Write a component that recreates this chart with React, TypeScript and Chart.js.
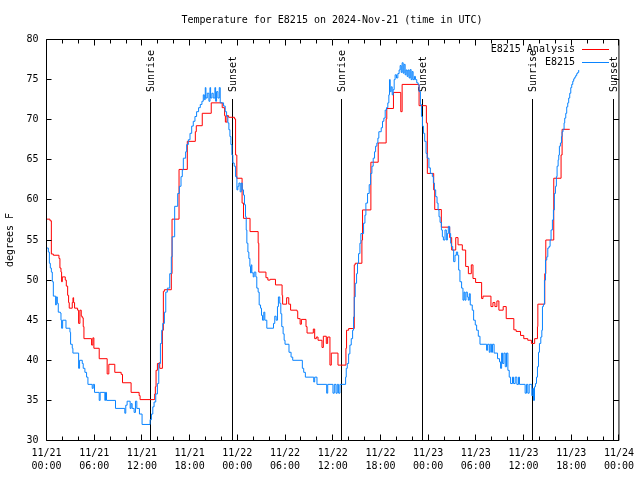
import { useEffect, useRef } from 'react';
import { Chart, registerables } from 'chart.js';

Chart.register(...registerables);

const TITLE = 'Temperature for E8215 on 2024-Nov-21 (time in UTC)';
const Y_TITLE = 'degrees F';
const SERIES_NAMES = ['E8215 Analysis', 'E8215'];

// hours since 2024-11-21 00:00 UTC
const tickDates = ['11/21', '11/21', '11/21', '11/21', '11/22', '11/22', '11/22', '11/22', '11/23', '11/23', '11/23', '11/23', '11/24'];
const tickTimes = ['00:00', '06:00', '12:00', '18:00', '00:00', '06:00', '12:00', '18:00', '00:00', '06:00', '12:00', '18:00', '00:00'];

const sunHours = [13.02, 23.42, 37.07, 47.33, 61.1, 71.37];
const sunLabels = ['Sunrise', 'Sunset', 'Sunrise', 'Sunset', 'Sunrise', 'Sunset'];

const analysisHours = [
  0, 0.44, 0.61, 0.86, 1.57, 1.69, 1.82, 1.9, 1.99, 2.36, 2.49, 2.66, 2.78, 2.86, 3.24, 3.33, 3.41, 3.53,
  3.91, 4.04, 4.2, 4.37, 4.5, 4.62, 4.71, 5.67, 5.83, 5.96, 6.63, 7.63, 7.84, 8.59, 9.39, 9.56, 10.64,
  11.65, 11.77, 13.61, 13.69, 13.78, 13.95, 14.16, 14.24, 14.58, 14.7, 14.83, 15.7, 15.79, 16.67, 17.71,
  18.72, 18.84, 19.59, 20.72, 22.1, 22.4, 22.5, 22.7, 22.9, 23.65, 23.78, 23.94, 24.6, 24.78, 25.6, 26.62,
  26.7, 27.6, 27.84, 28.13, 28.8, 29.63, 29.7, 30.2, 30.47, 30.7, 31.52, 31.6, 31.9, 32.06, 32.64, 32.77,
  33.56, 33.73, 33.94, 34.15, 34.65, 34.82, 35.19, 35.36, 35.65, 35.82, 36.66, 37.66, 37.74, 38.0, 38.71,
  38.83, 39.67, 39.75, 40.8, 41.72, 42.72, 42.8, 43.64, 44.56, 44.73, 46.86, 47.78, 47.9, 48.7, 48.83,
  49.66, 50.71, 50.96, 51.47, 51.76, 52.3, 52.72, 53.06, 53.43, 53.64, 53.97, 54.73, 54.9, 55.9, 56.15,
  56.4, 56.65, 56.9, 57.44, 57.82, 58.78, 59.07, 59.62, 60.03, 60.53, 60.99, 61.4, 61.75, 61.8, 62.67,
  62.8, 63.8, 64.72, 64.85, 65.81
];
const analysisTemps = [
  57.6, 57.4, 53.25, 53.1, 52.7, 51.5, 51.0, 49.8, 50.4, 50.0, 49.25, 48.1, 47.2, 46.5, 47.2, 47.8, 47.2, 46.5,
  46.25, 44.6, 46.25, 45.5, 45.3, 44.2, 42.7, 41.9, 42.8, 41.5, 40.2, 38.3, 39.5, 38.5, 38.25, 37.2, 36.0,
  35.6, 35.1, 35.8, 36.7, 38.75, 39.6, 39.7, 39.0, 43.75, 48.6, 48.8, 50.8, 57.6, 63.8, 67.3,
  68.5, 69.25, 70.8, 72.1, 71.5, 70.5, 69.7, 70.5, 70.3, 70.1, 65.6, 62.7, 59.6, 57.7, 56.05, 54.6,
  51.0, 50.3, 50.0, 50.1, 49.4, 48.1, 47.0, 47.8, 47.0, 46.25, 46.1, 45.2, 44.5, 45.1, 44.2, 43.4,
  43.9, 42.7, 42.9, 42.5, 41.6, 43.0, 42.1, 42.9, 39.4, 40.9, 39.4, 41.5, 43.75, 43.96, 51.9,
  52.1, 55.0, 58.75, 64.7, 67.1, 70.1, 71.4, 73.4, 71.0, 74.4, 71.75, 69.6, 63.3, 61.25, 58.8,
  56.6, 55.3, 53.75, 55.3, 54.4, 53.75, 51.7, 50.8, 51.9, 50.2, 49.7, 47.7, 48.0, 46.7, 47.2,
  46.7, 47.4, 46.25, 46.7, 45.2, 43.8, 43.6, 43.1, 42.7, 42.5, 42.1, 42.7, 44.2, 47.0, 50.8,
  55.0, 62.7, 65.6, 68.8, 68.8
];

const obsHours = [
  0, 0.23, 0.36, 0.48, 0.61, 0.73, 0.86, 1.15, 1.23, 1.36, 1.48, 1.74, 1.82, 1.9, 2.03, 2.45, 2.95, 3.03,
  3.24, 3.32, 4.04, 4.16, 4.5, 4.62, 4.83, 5.04, 5.21, 5.75, 5.88, 6.04, 6.63, 6.75, 7.34, 7.42, 7.55, 8.68,
  9.85, 9.97, 10.14, 10.52, 10.64, 10.77, 11.02, 11.19, 11.36, 11.69, 12.02, 13.03, 13.2, 13.37, 13.53,
  13.74, 13.95, 14.12, 14.33, 14.49, 14.62, 14.83, 15.0, 15.2, 15.5, 15.7, 15.8, 16.12, 16.5, 16.71, 16.92,
  17.08, 17.21, 17.5, 17.63, 17.84, 18.05, 18.26, 18.46, 18.67, 18.88, 19.13, 19.34, 19.55, 19.72, 19.85,
  19.97, 20.05, 20.22, 20.43, 20.56, 20.64, 20.8, 20.97, 21.18, 21.27, 21.39, 21.56, 21.73, 21.85, 22.27,
  22.48, 22.65, 22.81, 22.94, 23.07, 23.19, 23.32, 23.44, 23.61, 23.78, 23.95, 24.07, 24.2, 24.36, 24.49,
  24.62, 24.78, 24.9, 25.03, 25.12, 25.2, 25.33, 25.45, 25.58, 25.66, 25.75, 25.83, 26.0, 26.12, 26.33,
  26.45, 26.62, 26.75, 26.92, 27.04, 27.17, 27.33, 27.46, 27.71, 28.55, 28.71, 28.88, 29.05, 29.17, 29.34,
  29.47, 29.59, 29.76, 29.89, 30.0, 30.5, 30.76, 30.97, 32.18, 32.35, 32.56, 33.61, 33.73, 34.02, 35.24,
  35.37, 36.03, 36.2, 36.41, 36.57, 36.74, 36.91, 37.62, 37.7, 37.83, 38.0, 38.16, 38.33, 38.5, 38.62,
  38.71, 38.83, 39.0, 39.12, 39.25, 39.42, 39.54, 39.88, 40.05, 40.17, 40.38, 40.59, 40.76, 40.93, 41.09,
  41.26, 41.39, 41.55, 41.68, 41.8, 42.1, 42.26, 42.43, 42.6, 42.76, 42.93, 43.06, 43.14, 43.23, 43.35,
  43.48, 43.6, 43.73, 43.85, 44.02, 44.19, 44.35, 44.48, 44.61, 44.73, 44.86, 44.98, 45.11, 45.23, 45.36,
  45.48, 45.61, 45.74, 45.86, 45.99, 46.11, 46.28, 46.4, 46.57, 46.74, 46.86, 47.03, 47.16, 47.28, 47.41,
  47.57, 47.74, 47.87, 48.1, 48.28, 48.53, 48.66, 48.79, 48.95, 49.12, 49.25, 49.37, 49.5, 49.67, 49.79,
  49.92, 50.12, 50.29, 50.42, 50.54, 50.71, 50.83, 50.92, 51.09, 51.21, 51.38, 51.55, 51.71, 51.84, 52.0,
  52.21, 52.38, 52.51, 52.63, 52.76, 52.93, 53.05, 53.18, 53.3, 53.55, 53.72, 53.93, 54.1, 54.31, 54.52,
  55.35, 55.48, 55.69, 55.81, 55.98, 56.1, 56.3, 56.73, 56.98, 57.11, 57.24, 57.36, 57.53, 57.7, 57.86,
  58.03, 58.2, 58.37, 58.61, 58.74, 58.95, 59.16, 59.37, 59.49, 60.2, 60.37, 60.54, 60.71, 61.04, 61.17,
  61.25, 61.38, 61.5, 61.63, 61.75, 61.88, 62.0, 62.17, 62.3, 62.38, 62.5, 62.63, 62.76, 62.92, 63.05,
  63.21, 63.34, 63.46, 63.63, 63.76, 63.88, 64.01, 64.13, 64.22, 64.35, 64.43, 64.51, 64.64, 64.77, 64.85,
  64.97, 65.1, 65.18, 65.31, 65.43, 65.56, 65.68, 65.81, 65.94, 66.06, 66.19, 66.31, 66.44, 66.56, 66.69,
  66.81, 66.94
];
const obsTemps = [
  54.0, 53.5, 52.1, 51.5, 51.0, 49.8, 48.0, 46.9, 47.9, 47.1, 46.0, 45.9, 45.0, 44.0, 45.0, 44.0, 43.5, 42.0,
  41.5, 40.9, 39.0, 40.0, 39.6, 39.0, 38.5, 37.9, 37.0, 36.5, 37.0, 36.0, 35.0, 36.0, 35.0, 36.0, 35.0, 34.0,
  33.4, 34.4, 34.9, 34.0, 34.6, 34.0, 33.5, 34.9, 34.0, 33.3, 32.0, 32.6, 33.3, 34.2, 34.8,
  35.8, 37.1, 39.6, 42.1, 43.75, 44.6, 46.0, 48.5, 49.0, 50.8, 52.9, 55.4, 59.2, 60.8, 61.7, 62.9,
  63.75, 65.2, 66.0, 66.9, 67.5, 68.3, 69.2, 69.8, 70.4, 71.0, 71.5, 71.9, 72.3, 73.1, 72.5,
  74.0, 72.7, 73.3, 72.3, 74.0, 72.7, 73.3, 72.7, 74.0, 72.3, 73.5, 72.7, 74.0, 72.1, 71.7,
  71.0, 70.4, 69.6, 68.75, 67.9, 66.9, 65.6, 64.6, 64.2, 62.9, 61.25, 61.7, 62.1, 61.0, 62.1,
  61.25, 60.6, 59.4, 57.9, 56.25, 54.6, 53.5, 52.7, 51.7, 50.9, 51.9, 50.9, 50.4, 51.0, 50.4,
  49.0, 48.5, 46.9, 46.5, 45.6, 45.0, 46.0, 45.0, 44.0, 44.6, 45.5, 45.0, 46.7, 47.9, 47.1,
  45.8, 44.2, 43.3, 42.5, 42.0, 41.0, 40.4, 40.0, 39.0, 38.5, 37.9, 37.3, 37.9, 37.0, 35.9,
  37.0, 35.9, 37.0, 35.9, 37.0, 35.9, 37.0, 37.9, 39.0, 39.6, 40.8, 41.9, 42.7, 43.75, 45.4,
  47.9, 49.6, 50.8, 52.1, 53.3, 54.6, 55.8, 57.1, 58.1, 59.6, 60.8, 61.9, 63.3, 64.2, 65.2,
  66.0, 66.7, 67.1, 67.7, 68.5, 69.0, 69.8, 70.2, 71.2, 71.5, 72.1, 73.1, 75.0, 73.5, 74.1,
  73.1, 73.75, 75.0, 75.6, 75.2, 75.75, 76.2, 76.75, 75.9, 77.1, 75.8, 76.9, 75.6, 76.2, 75.4,
  76.2, 75.2, 76.25, 75.0, 76.0, 75.0, 75.4, 75.0, 74.6, 74.4, 73.5, 71.9, 70.4, 69.2, 68.3,
  67.3, 65.8, 65.2, 64.0, 63.3, 62.9, 62.1, 61.25, 60.4, 59.6, 58.75, 57.9, 57.2, 56.25, 55.4,
  55.0, 56.25, 55.0, 55.8, 56.7, 55.8, 54.6, 54.2, 53.75, 52.3, 53.1, 53.5, 53.1, 51.25, 49.8,
  49.0, 47.5, 48.5, 47.5, 48.5, 47.9, 47.5, 48.3, 46.9, 46.25, 45.0, 44.4, 43.75, 43.0, 42.0,
  41.25, 42.0, 41.0, 42.0, 41.0, 42.0, 40.9, 40.2, 39.8, 39.0, 40.9, 39.6, 40.9, 39.2, 40.9,
  38.75, 37.9, 37.1, 37.9, 37.1, 37.9, 37.0, 37.9, 37.0, 35.9, 37.0, 35.9, 37.0, 35.6, 36.5,
  35.0, 36.7, 37.1, 37.9, 39.2, 41.0, 42.1, 42.9, 43.75, 46.7, 47.0, 50.0, 52.5, 52.9, 54.0,
  54.2, 55.0, 56.25, 57.5, 58.75, 60.8, 61.7, 62.9, 64.2, 65.0, 65.6, 66.7, 67.1, 67.9, 68.5,
  68.8, 69.6, 70.2, 70.8, 71.6, 72.1, 72.7, 73.3, 74.0, 74.4, 74.8, 75.1, 75.3, 75.5, 75.75,
  75.9, 76.2
];

const RED = '#ff0000';
const BLUE = '#0a84ff';
const FONT = '"DejaVu Sans Mono", monospace';

const crisp = (v: number) => Math.round(v - 0.5) + 0.5;

const decorPlugin = {
  id: 'gnuplotDecor',
  beforeDatasetsDraw(chart: any) {
    const { ctx, chartArea, scales } = chart;
    ctx.save();
    ctx.strokeStyle = '#000';
    ctx.lineWidth = 1;
    ctx.fillStyle = '#000';
    ctx.font = '10px ' + FONT;
    sunHours.forEach((h, i) => {
      const x = crisp(scales.x.getPixelForValue(h));
      ctx.beginPath();
      ctx.moveTo(x, 99);
      ctx.lineTo(x, chartArea.bottom);
      ctx.stroke();
      ctx.save();
      ctx.translate(x + 1, 92);
      ctx.rotate(-Math.PI / 2);
      ctx.textAlign = 'left';
      ctx.textBaseline = 'middle';
      ctx.fillText(sunLabels[i], 0, 0);
      ctx.restore();
    });
    ctx.restore();
  },
  afterDatasetsDraw(chart: any) {
    const { ctx, chartArea, scales } = chart;
    const { left, right, top, bottom } = chartArea;
    ctx.save();
    ctx.strokeStyle = '#000';
    ctx.lineWidth = 1;
    ctx.beginPath();
    ctx.rect(left, top, right - left, bottom - top);
    ctx.stroke();
    // x ticks (inward, mirrored)
    for (let h = 0; h <= 72; h += 2) {
      const x = crisp(scales.x.getPixelForValue(h));
      const len = h % 6 === 0 ? 6 : 4;
      ctx.beginPath();
      ctx.moveTo(x, bottom);
      ctx.lineTo(x, bottom - len);
      ctx.moveTo(x, top);
      ctx.lineTo(x, top + len);
      ctx.stroke();
    }
    for (let v = 30; v <= 80; v += 5) {
      const y = crisp(scales.y.getPixelForValue(v));
      ctx.beginPath();
      ctx.moveTo(left, y);
      ctx.lineTo(left + 5, y);
      ctx.moveTo(right, y);
      ctx.lineTo(right - 5, y);
      ctx.stroke();
    }
    // title
    ctx.fillStyle = '#000';
    ctx.font = '10px ' + FONT;
    ctx.textAlign = 'center';
    ctx.textBaseline = 'middle';
    ctx.fillText(TITLE, 332, 20);
    // legend
    const colors = [RED, BLUE];
    SERIES_NAMES.forEach((name, i) => {
      const y = 49.5 + i * 13;
      ctx.fillStyle = '#000';
      ctx.textAlign = 'right';
      ctx.fillText(name, 575, y);
      ctx.strokeStyle = colors[i];
      ctx.beginPath();
      ctx.moveTo(582, y);
      ctx.lineTo(609, y);
      ctx.stroke();
    });
    ctx.restore();
  },
};

export default function App() {
  const ref = useRef<HTMLCanvasElement>(null);
  useEffect(() => {
    document.body.style.margin = '0';
    if (!ref.current) return;
    Chart.defaults.font.family = FONT;
    const chart = new Chart(ref.current, {
      type: 'line',
      data: {
        datasets: [
          {
            label: SERIES_NAMES[0],
            data: analysisHours.map((h, i) => ({ x: h, y: analysisTemps[i] })),
            borderColor: RED,
            borderWidth: 1,
            pointRadius: 0,
            stepped: true,
            fill: false,
            order: 2,
          },
          {
            label: SERIES_NAMES[1],
            data: obsHours.map((h, i) => ({ x: h, y: obsTemps[i] })),
            borderColor: BLUE,
            borderWidth: 1,
            pointRadius: 0,
            stepped: true,
            fill: false,
            order: 1,
          },
        ],
      },
      options: {
        responsive: false,
        devicePixelRatio: 1,
        animation: false,
        events: [],
        layout: { padding: { left: 0, top: 39.5, right: 18.5, bottom: 0 } },
        plugins: {
          legend: { display: false },
          title: { display: false },
          tooltip: { enabled: false },
        },
        scales: {
          x: {
            type: 'linear',
            min: 0,
            max: 72,
            grid: { display: false, drawTicks: false },
            border: { display: false },
            afterFit: (s: any) => { s.height = 39.5; },
            afterBuildTicks: (s: any) => {
              s.ticks = tickDates.map((_, i) => ({ value: i * 6 }));
            },
            ticks: {
              autoSkip: false,
              maxRotation: 0,
              color: '#000',
              padding: 6,
              font: { size: 10, family: FONT, lineHeight: 1.3 },
              callback: (v: any) => {
                const i = Math.round(Number(v) / 6);
                return [tickDates[i], tickTimes[i]];
              },
            },
          },
          y: {
            min: 30,
            max: 80,
            grid: { display: false, drawTicks: false },
            border: { display: false },
            afterFit: (s: any) => { s.width = 46.5; },
            ticks: {
              stepSize: 5,
              color: '#000',
              padding: 8,
              font: { size: 10, family: FONT },
            },
            title: {
              display: true,
              text: Y_TITLE,
              color: '#000',
              font: { size: 10, family: FONT },
              padding: { top: 4, bottom: 0 },
            },
          },
        },
      },
      plugins: [decorPlugin],
    });
    return () => chart.destroy();
  }, []);
  return (
    <div style={{ width: 640, height: 480, background: '#fff' }}>
      <canvas ref={ref} width={640} height={480} style={{ display: 'block' }} />
    </div>
  );
}
